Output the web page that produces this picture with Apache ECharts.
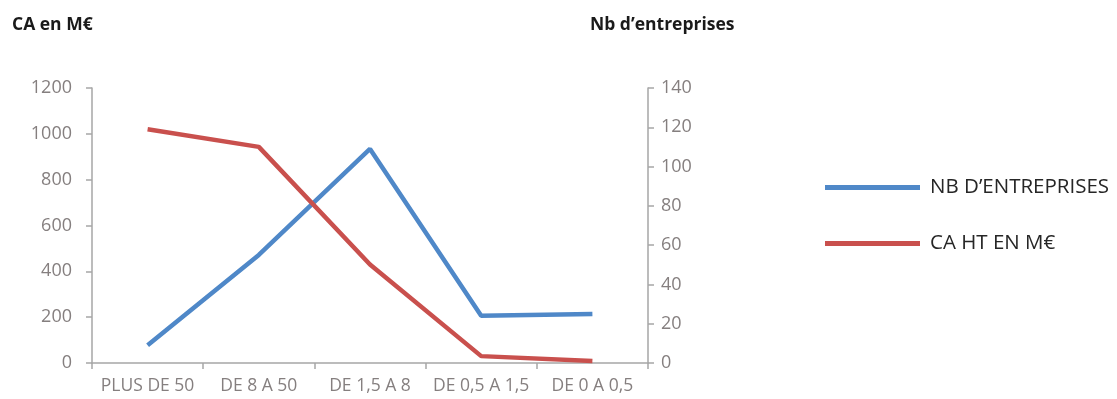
<!DOCTYPE html>
<html>
<head>
<meta charset="utf-8">
<script src="https://cdn.jsdelivr.net/npm/echarts@6/dist/echarts.min.js"></script>
<style>
  html, body { margin: 0; padding: 0; background: #ffffff; }
  #chart { width: 1117px; height: 399px; }
</style>
</head>
<body>
<div id="chart"></div>
<script>
// Tranches de CA (M€)
var categories = ['PLUS DE 50', 'DE 8 A 50', 'DE 1,5 A 8', 'DE 0,5 A 1,5', 'DE 0 A 0,5'];
// Nombre d'entreprises par tranche (axe de droite)
var nbEntreprises = [9, 55, 109, 24, 25];
// Chiffre d'affaires HT en M€ par tranche (axe de gauche)
var caHT = [1020, 943, 430, 30, 9];

var axisGrey = '#a6a6a6';
var labelGrey = '#857f7f';
var font = '"Open Sans", "Liberation Sans", sans-serif';

var chart = echarts.init(document.getElementById('chart'), null, { renderer: 'canvas' });
chart.setOption({
  animation: false,
  backgroundColor: '#ffffff',
  textStyle: { fontFamily: font },
  title: [
    { text: 'CA en M€', left: 12, top: 16, padding: 0,
      textStyle: { fontSize: 17.5, fontWeight: 'bold', color: '#1a1a1a', fontFamily: font } },
    { text: 'Nb d\u2019entreprises', left: 590, top: 16, padding: 0,
      textStyle: { fontSize: 17.5, fontWeight: 'bold', color: '#1a1a1a', fontFamily: font } }
  ],
  legend: {
    orient: 'vertical',
    left: 825,
    top: 177,
    padding: 0,
    itemWidth: 95,
    itemHeight: 5,
    itemGap: 35,
    icon: 'rect',
    textStyle: { fontSize: 20.5, color: '#262626', fontFamily: font, padding: [0, 0, 0, 5] },
    data: ['NB D\u2019ENTREPRISES', 'CA HT EN M€']
  },
  grid: { left: 92, right: 469, top: 88, bottom: 36, containLabel: false },
  xAxis: {
    type: 'category',
    data: categories,
    boundaryGap: true,
    axisLine: { lineStyle: { color: axisGrey, width: 1.5 } },
    axisTick: { show: true, length: 6, alignWithLabel: false, lineStyle: { color: axisGrey, width: 1.5 } },
    axisLabel: { color: labelGrey, fontSize: 17.5, margin: 14, fontFamily: font, interval: 0 },
    splitLine: { show: false }
  },
  yAxis: [
    {
      type: 'value', min: 0, max: 1200, interval: 200, position: 'left',
      axisLine: { show: true, lineStyle: { color: axisGrey, width: 1.5 } },
      axisTick: { show: true, length: 6, lineStyle: { color: axisGrey, width: 1.5 } },
      axisLabel: { color: labelGrey, fontSize: 18, margin: 20, fontFamily: font,
                   formatter: function (v) { return String(v); } },
      splitLine: { show: false }
    },
    {
      type: 'value', min: 0, max: 140, interval: 20, position: 'right',
      axisLine: { show: true, lineStyle: { color: axisGrey, width: 1.5 } },
      axisTick: { show: true, length: 6, lineStyle: { color: axisGrey, width: 1.5 } },
      axisLabel: { color: labelGrey, fontSize: 18, margin: 13, fontFamily: font,
                   formatter: function (v) { return String(v); } },
      splitLine: { show: false }
    }
  ],
  series: [
    {
      name: 'NB D\u2019ENTREPRISES', type: 'line', yAxisIndex: 1,
      data: nbEntreprises, symbol: 'none',
      itemStyle: { color: '#4f88c8' },
      lineStyle: { color: '#4f88c8', width: 4.5 }
    },
    {
      name: 'CA HT EN M€', type: 'line', yAxisIndex: 0,
      data: caHT, symbol: 'none',
      itemStyle: { color: '#c9504d' },
      lineStyle: { color: '#c9504d', width: 4.5 }
    }
  ]
});
</script>
</body>
</html>
